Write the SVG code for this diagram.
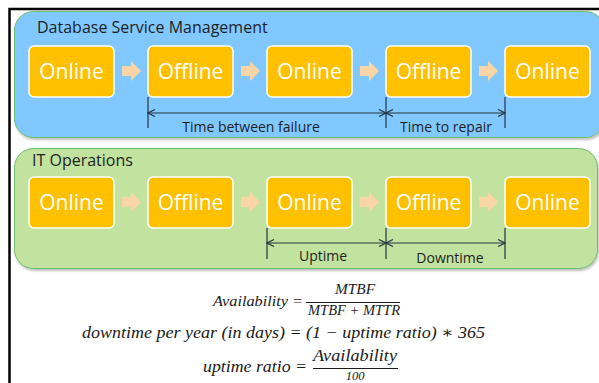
<svg xmlns="http://www.w3.org/2000/svg" width="599" height="383" viewBox="0 0 599 383">
  <defs>
    <style>
      .panel-blue { fill: #80C8FF; stroke: #6CBF6A; stroke-width: 1; }
      .panel-green { fill: #C2E29F; stroke: #6CBF6A; stroke-width: 1; }
      .box { fill: #FFC000; stroke: #FFFFFF; stroke-width: 1.5; }
      .box-label { font-family: "Open Sans", "Noto Sans", sans-serif; font-size: 21px; fill: #FFFFFF; text-anchor: middle; }
      .title { font-family: "Open Sans", "Noto Sans", sans-serif; font-size: 16px; fill: #1E1E1E; }
      .dim-label { font-family: "Open Sans", "Noto Sans", sans-serif; font-size: 14px; fill: #1E1E1E; text-anchor: middle; }
      .flow { fill: #FCD5A6; }
      .dim { stroke: #26343F; stroke-width: 1.2; fill: none; }
      .math { font-family: "Liberation Serif", "DejaVu Serif", serif; font-style: italic; fill: #1A1A1A; }
      .rule { stroke: #1A1A1A; stroke-width: 1; }
    </style>
    <marker id="dimHead" viewBox="-8 -4 9 8" refX="0" refY="0" markerWidth="9" markerHeight="8" markerUnits="userSpaceOnUse" orient="auto-start-reverse">
      <path d="M-7,-3.5 L0,0 L-7,3.5" fill="none" stroke="#26343F" stroke-width="1.2"/>
    </marker>
    <filter id="shadow" x="-5%" y="-10%" width="110%" height="125%">
      <feDropShadow dx="1" dy="2" stdDeviation="1" flood-color="#000000" flood-opacity="0.25"/>
    </filter>
    <path id="flowArrow" d="M0,-5 H9 V-10 L19,0 L9,10 V5 H0 Z"/>
  </defs>

  <rect width="599" height="383" fill="#FFFFFF"/>
  <!-- frame edges -->
  <path d="M9.5,383 V9 H599" fill="none" stroke="#000000" stroke-width="2.5"/>

  <!-- panel: Database Service Management -->
  <g id="panel-dsm">
    <rect class="panel-blue" x="14.5" y="11.5" width="590" height="126" rx="19" filter="url(#shadow)"/>
    <text class="title" x="37" y="33">Database Service Management</text>
  </g>

  <!-- panel: IT Operations -->
  <g id="panel-itops">
    <rect class="panel-green" x="14.5" y="148.5" width="583" height="120" rx="19" filter="url(#shadow)"/>
    <text class="title" x="32" y="166">IT Operations</text>
  </g>

  <!-- top row states -->
  <g id="dsm-1"><rect class="box" x="29" y="46" width="85" height="51" rx="5"/><text class="box-label" x="71.5" y="79">Online</text></g>
  <g id="dsm-2"><rect class="box" x="148" y="46" width="85" height="51" rx="5"/><text class="box-label" x="190.5" y="79">Offline</text></g>
  <g id="dsm-3"><rect class="box" x="267" y="46" width="85" height="51" rx="5"/><text class="box-label" x="309.5" y="79">Online</text></g>
  <g id="dsm-4"><rect class="box" x="386" y="46" width="85" height="51" rx="5"/><text class="box-label" x="428.5" y="79">Offline</text></g>
  <g id="dsm-5"><rect class="box" x="505" y="46" width="85" height="51" rx="5"/><text class="box-label" x="547.5" y="79">Online</text></g>

  <!-- bottom row states -->
  <g id="ops-1"><rect class="box" x="29" y="177" width="85" height="51" rx="5"/><text class="box-label" x="71.5" y="210">Online</text></g>
  <g id="ops-2"><rect class="box" x="148" y="177" width="85" height="51" rx="5"/><text class="box-label" x="190.5" y="210">Offline</text></g>
  <g id="ops-3"><rect class="box" x="267" y="177" width="85" height="51" rx="5"/><text class="box-label" x="309.5" y="210">Online</text></g>
  <g id="ops-4"><rect class="box" x="386" y="177" width="85" height="51" rx="5"/><text class="box-label" x="428.5" y="210">Offline</text></g>
  <g id="ops-5"><rect class="box" x="505" y="177" width="85" height="51" rx="5"/><text class="box-label" x="547.5" y="210">Online</text></g>

  <g id="connectors">
    <!-- state transitions -->
    <g class="flow">
      <use href="#flowArrow" x="122" y="71"/>
      <use href="#flowArrow" x="241" y="71"/>
      <use href="#flowArrow" x="360" y="71"/>
      <use href="#flowArrow" x="479" y="71"/>
      <use href="#flowArrow" x="122" y="202"/>
      <use href="#flowArrow" x="241" y="202"/>
      <use href="#flowArrow" x="360" y="202"/>
      <use href="#flowArrow" x="479" y="202"/>
    </g>
    <!-- interval dimensions, top row -->
    <path class="dim" d="M148,97 V128 M386,97 V128 M505,97 V128"/>
    <line class="dim" x1="148" y1="113" x2="386" y2="113" marker-start="url(#dimHead)" marker-end="url(#dimHead)"/>
    <line class="dim" x1="386" y1="113" x2="505" y2="113" marker-start="url(#dimHead)" marker-end="url(#dimHead)"/>
    <!-- interval dimensions, bottom row -->
    <path class="dim" d="M267,228 V259 M386,228 V259 M505,228 V259"/>
    <line class="dim" x1="267" y1="243" x2="386" y2="243" marker-start="url(#dimHead)" marker-end="url(#dimHead)"/>
    <line class="dim" x1="386" y1="243" x2="505" y2="243" marker-start="url(#dimHead)" marker-end="url(#dimHead)"/>
  </g>

  <g id="dimension-labels">
    <text class="dim-label" x="251" y="132">Time between failure</text>
    <text class="dim-label" x="446" y="132">Time to repair</text>
    <text class="dim-label" x="323" y="261">Uptime</text>
    <text class="dim-label" x="450" y="263">Downtime</text>
  </g>

  <!-- formulas -->
  <g id="formulas">
    <text class="math" x="213" y="306" font-size="14.5" textLength="90" lengthAdjust="spacingAndGlyphs">Availability =</text>
    <text class="math" x="335" y="294" font-size="14" textLength="40" lengthAdjust="spacingAndGlyphs">MTBF</text>
    <line class="rule" x1="306" y1="302.5" x2="400" y2="302.5"/>
    <text class="math" x="308" y="315" font-size="14" textLength="92" lengthAdjust="spacingAndGlyphs">MTBF + MTTR</text>

    <text class="math" x="82" y="338" font-size="16" textLength="403" lengthAdjust="spacingAndGlyphs">downtime per year (in days)  = (1  − uptime ratio) ∗ 365</text>

    <text class="math" x="203" y="372" font-size="16" textLength="104" lengthAdjust="spacingAndGlyphs">uptime ratio =</text>
    <text class="math" x="313" y="361" font-size="16" textLength="84" lengthAdjust="spacingAndGlyphs">Availability</text>
    <line class="rule" x1="313" y1="368.5" x2="398" y2="368.5"/>
    <text class="math" x="355" y="379.5" font-size="12.5" text-anchor="middle">100</text>
  </g>
</svg>
